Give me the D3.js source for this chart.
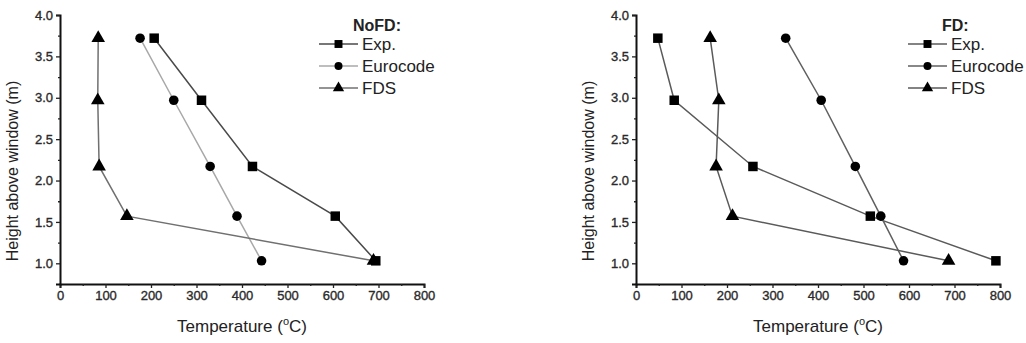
<!DOCTYPE html>
<html><head><meta charset="utf-8">
<script src="https://cdn.jsdelivr.net/npm/d3@7"></script>
<style>body{margin:0;background:#fff}svg{display:block;font-family:"Liberation Sans",Arial,sans-serif}</style>
</head><body><svg id="c" width="1026" height="343"></svg>
<script>
const heights = [3.72, 2.97, 2.17, 1.57, 1.03];
const seriesNames = ["Exp.", "Eurocode", "FDS"];
const noFdExp = [207, 311, 423, 605, 694];
const noFdEuro = [176, 250, 330, 389, 443];
const noFdFds = [84, 83, 86, 147, 689];
const fdExp = [48, 84, 257, 515, 791];
const fdEuro = [329, 407, 482, 538, 588];
const fdFds = [163, 182, 176, 212, 687];
const xTicks = [0, 100, 200, 300, 400, 500, 600, 700, 800];
const yTicks = [1.0, 1.5, 2.0, 2.5, 3.0, 3.5, 4.0];

const panels = [
  {title: "NoFD:", left: 60, series: [noFdExp, noFdEuro, noFdFds], colors: ["#4a4a4a", "#a8a8a8", "#707070"], legX: 319},
  {title: "FD:", left: 636, series: [fdExp, fdEuro, fdFds], colors: ["#5a5a5a", "#606060", "#5a5a5a"], legX: 908}
];
const symbols = [d3.symbolSquare, d3.symbolCircle, d3.symbolTriangle];
const symSizes = [90, 72, 80];

const svg = d3.select("#c");
const plotTop = 15, plotBottom = 284, plotWidth = 364;

panels.forEach(p => {
  const g = svg.append("g");
  const x = d3.scaleLinear().domain([0, 800]).range([p.left, p.left + plotWidth]);
  const y = d3.scaleLinear().domain([0.75, 4.0]).range([plotBottom, plotTop]);

  const xMinor = d3.range(50, 800, 100);
  const yMinor = d3.range(1.25, 4.0, 0.5);
  g.append("g").attr("transform", `translate(0,${plotBottom})`)
    .call(d3.axisBottom(x).tickValues(xTicks).tickFormat(d3.format("d")).tickSizeOuter(0).tickSize(4).tickPadding(3));
  g.append("g").attr("transform", `translate(0,${plotBottom})`)
    .call(d3.axisBottom(x).tickValues(xMinor).tickFormat("").tickSizeOuter(0).tickSize(2))
    .call(s => s.select(".domain").remove());
  g.append("g").attr("transform", `translate(${p.left},0)`)
    .call(d3.axisLeft(y).tickValues(yTicks).tickFormat(d3.format(".1f")).tickSizeOuter(0).tickSize(4).tickPadding(3));
  g.append("g").attr("transform", `translate(${p.left},0)`)
    .call(d3.axisLeft(y).tickValues(yMinor).tickFormat("").tickSizeOuter(0).tickSize(2))
    .call(s => s.select(".domain").remove());
  g.selectAll(".domain").attr("stroke", "#111").attr("stroke-width", 2);
  g.selectAll(".tick line").attr("stroke", "#222").attr("stroke-width", 1.3);
  g.selectAll(".tick text").attr("font-size", 13).attr("fill", "#2a2a2a")
    .attr("stroke", "#2a2a2a").attr("stroke-width", 0.35)
    .attr("font-family", "'Liberation Sans',Arial,sans-serif");

  const xl = g.append("text").attr("x", p.left + plotWidth / 2).attr("y", 332)
    .attr("text-anchor", "middle").attr("font-size", 17).attr("fill", "#222");
  xl.append("tspan").text("Temperature (");
  xl.append("tspan").text("o").attr("font-size", 11).attr("dy", -7);
  xl.append("tspan").text("C)").attr("dy", 7);
  g.append("text").attr("transform", `translate(${p.left - 42},${171}) rotate(-90)`)
    .attr("text-anchor", "middle").attr("font-size", 16).attr("fill", "#222")
    .text("Height above window (m)");

  p.series.forEach((vals, i) => {
    const pts = vals.map((v, j) => [x(v), y(heights[j])]);
    g.append("path").attr("d", d3.line()(pts)).attr("fill", "none")
      .attr("stroke", p.colors[i]).attr("stroke-width", 1.5);
    g.selectAll(null).data(pts).enter().append("path")
      .attr("transform", d => `translate(${d[0]},${d[1]})`)
      .attr("d", d3.symbol().type(symbols[i]).size(symSizes[i])).attr("fill", "#000");
  });

  g.append("text").attr("x", p.legX + 34).attr("y", 31).attr("font-size", 16)
    .attr("font-weight", "bold").attr("fill", "#222").text(p.title);
  seriesNames.forEach((n, i) => {
    const ly = 44 + i * 22;
    g.append("line").attr("x1", p.legX).attr("x2", p.legX + 39).attr("y1", ly).attr("y2", ly)
      .attr("stroke", p.colors[i]).attr("stroke-width", 1.5);
    g.append("path").attr("transform", `translate(${p.legX + 19.5},${ly})`)
      .attr("d", d3.symbol().type(symbols[i]).size(symSizes[i] * 0.7)).attr("fill", "#000");
    g.append("text").attr("x", p.legX + 43).attr("y", ly + 6).attr("font-size", 17)
      .attr("fill", "#222").text(n);
  });
});
</script></body></html>
